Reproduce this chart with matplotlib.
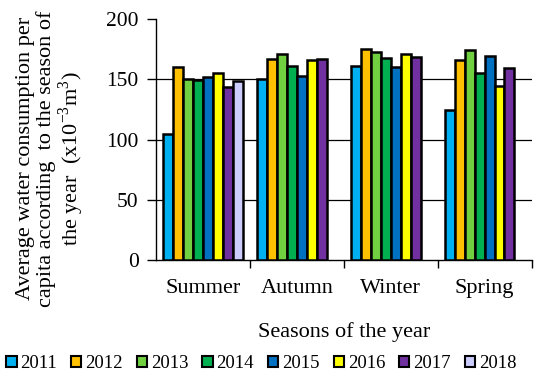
import numpy as np
import matplotlib
matplotlib.use("Agg")
import matplotlib.pyplot as plt
from matplotlib.patches import Patch

plt.rcParams["font.family"] = ["Liberation Serif", "DejaVu Serif"]
plt.rcParams["mathtext.fontset"] = "custom"
plt.rcParams["mathtext.rm"] = "Liberation Serif"

seasons = ["Summer", "Autumn", "Winter", "Spring"]
years = ["2011", "2012", "2013", "2014", "2015", "2016", "2017", "2018"]
nan = np.nan
# one list per year, one value per season
y2011 = [104.4, 150.7, 161.2, 124.6]
y2012 = [160.6, 166.7, 175.6, 166.2]
y2013 = [150.0, 171.2, 172.5, 174.5]
y2014 = [149.8, 161.2, 168.1, 155.1]
y2015 = [151.8, 152.9, 160.6, 169.5]
y2016 = [155.7, 166.2, 171.4, 144.6]
y2017 = [143.5, 167.0, 169.0, 159.8]
y2018 = [149.0, nan, nan, nan]
values = [y2011, y2012, y2013, y2014, y2015, y2016, y2017, y2018]
colors = ["#00B0F0", "#FFC000", "#70D040", "#00B050",
          "#0070C0", "#FFFF00", "#7030A0", "#CCCCFF"]

fig = plt.figure(figsize=(5.5, 3.81), dpi=100)
ax = fig.add_axes([0.2836, 0.3176, 0.6828, 0.6317])

x = np.arange(len(seasons))
w = 0.106
for j, (vals, col) in enumerate(zip(values, colors)):
    ax.bar(x + (j - 3.5) * w, vals, width=w, color=col,
           edgecolor="black", linewidth=1.8, zorder=3)

ax.set_xlim(-0.5, 3.5)
ax.set_ylim(0, 200)
ax.set_yticks([0, 50, 100, 150, 200])
for g in [50, 100, 150]:
    ax.axhline(g, color="black", lw=0.9, zorder=1)

ax.set_xticks([0.5, 1.5, 2.5, 3.5])
ax.set_xticklabels([])
ax.set_xticks(x, minor=True)
ax.set_xticklabels(seasons, minor=True, fontsize=16)
ax.tick_params(axis="x", which="minor", length=0, pad=14)
ax.tick_params(axis="x", which="major", direction="out", length=6, width=1)
ax.tick_params(axis="y", direction="out", length=6.5, width=1, labelsize=15.5, pad=6)

for s in ["top", "right"]:
    ax.spines[s].set_visible(False)
for s in ["left", "bottom"]:
    ax.spines[s].set_linewidth(1)

ax.set_xlabel("Seasons of the year", fontsize=16, labelpad=17)
fig.text(0.093, 0.583,
         "Average water consumption per\ncapita according  to the season of\n"
         "the year  (x10$^{-3}$m$^{3}$)", fontsize=16, linespacing=1.05,
         rotation=90, ha="center", va="center", multialignment="center")

handles = [Patch(facecolor=c, edgecolor="black", linewidth=1.5, label=y)
           for y, c in zip(years, colors)]
fig.legend(handles=handles, loc="center", bbox_to_anchor=(0.475, 0.045),
           ncol=8, frameon=False, fontsize=13.5, handlelength=0.55,
           handleheight=0.55, handletextpad=0.2, columnspacing=0.75,
           borderaxespad=0)

fig.savefig("out.png", dpi=100)
